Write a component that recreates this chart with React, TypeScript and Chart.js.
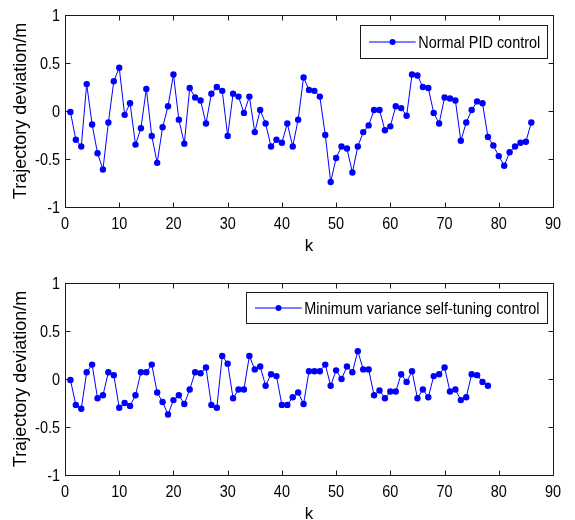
import React, { useEffect, useRef } from 'react';
import { Chart, registerables } from 'chart.js';

Chart.register(...registerables);

// ---- Data ----
const xTickValues = [0, 10, 20, 30, 40, 50, 60, 70, 80, 90];
const yTickValues = [-1, -0.5, 0, 0.5, 1];

const pidLabel = 'Normal PID control';
const pidDeviation = [
  -0.01, -0.30, -0.37, 0.28, -0.14, -0.44, -0.61, -0.12, 0.31, 0.45,
  -0.04, 0.08, -0.35, -0.18, 0.23, -0.26, -0.54, -0.17, 0.05, 0.38,
  -0.09, -0.34, 0.24, 0.14, 0.11, -0.13, 0.18, 0.25, 0.21, -0.26,
  0.18, 0.15, -0.02, 0.15, -0.22, 0.01, -0.13, -0.37, -0.30, -0.33,
  -0.13, -0.37, -0.09, 0.35, 0.22, 0.21, 0.15, -0.25, -0.74, -0.49,
  -0.37, -0.39, -0.64, -0.37, -0.22, -0.15, 0.01, 0.01, -0.20, -0.16,
  0.05, 0.03, -0.05, 0.38, 0.37, 0.25, 0.24, -0.02, -0.13, 0.14,
  0.13, 0.11, -0.31, -0.12, 0.01, 0.10, 0.08, -0.27, -0.36, -0.47,
  -0.57, -0.43, -0.37, -0.33, -0.32, -0.12,
];

const mvLabel = 'Minimum variance self-tuning control';
const mvDeviation = [
  -0.01, -0.27, -0.31, 0.07, 0.15, -0.20, -0.17, 0.07, 0.04, -0.30,
  -0.25, -0.28, -0.17, 0.07, 0.07, 0.15, -0.14, -0.24, -0.37, -0.22,
  -0.17, -0.26, -0.11, 0.07, 0.06, 0.12, -0.27, -0.30, 0.24, 0.16,
  -0.20, -0.11, -0.11, 0.24, 0.10, 0.13, -0.07, 0.05, 0.03, -0.27,
  -0.27, -0.19, -0.14, -0.26, 0.08, 0.08, 0.08, 0.15, -0.07, 0.09,
  0.00, 0.13, 0.07, 0.29, 0.10, 0.10, -0.17, -0.12, -0.20, -0.13,
  -0.13, 0.05, -0.03, 0.08, -0.20, -0.11, -0.19, 0.03, 0.05, 0.12,
  -0.13, -0.11, -0.22, -0.19, 0.05, 0.04, -0.03, -0.07,
];

const BLUE = '#0000ff';
const FONT = '"Liberation Sans", Arial, sans-serif';
const SX = 0.85; // horizontal squeeze of the reference's text

function makeFramePlugin(label: string, boxH: number, boxTop: number) {
  return {
    id: 'matlabFrame',
    afterDraw(chart: any) {
      const { ctx, chartArea: a, scales } = chart;
      ctx.save();
      // frame
      ctx.strokeStyle = '#1a1a1a';
      ctx.lineWidth = 1;
      const L = Math.round(a.left) + 0.5;
      const R = Math.round(a.right) + 0.5;
      const T = Math.round(a.top) + 0.5;
      const B = Math.round(a.bottom) + 0.5;
      ctx.strokeRect(L, T, R - L, B - T);
      // inner ticks
      const tl = 5;
      ctx.beginPath();
      xTickValues.forEach((v) => {
        const px = Math.round(scales.x.getPixelForValue(v)) + 0.5;
        ctx.moveTo(px, B);
        ctx.lineTo(px, B - tl);
        ctx.moveTo(px, T);
        ctx.lineTo(px, T + tl);
      });
      yTickValues.forEach((v) => {
        const py = Math.round(scales.y.getPixelForValue(v)) + 0.5;
        ctx.moveTo(L, py);
        ctx.lineTo(L + tl, py);
        ctx.moveTo(R, py);
        ctx.lineTo(R - tl, py);
      });
      ctx.stroke();

      // tick labels (squeezed horizontally like the reference)
      ctx.fillStyle = '#000000';
      ctx.font = `17px ${FONT}`;
      ctx.textBaseline = 'alphabetic';
      xTickValues.forEach((v) => {
        const px = scales.x.getPixelForValue(v);
        const w = ctx.measureText(String(v)).width;
        ctx.save();
        ctx.translate(px, a.bottom + 21.5);
        ctx.scale(SX, 1);
        ctx.fillText(String(v), -w / 2, 0);
        ctx.restore();
      });
      yTickValues.forEach((v) => {
        const py = scales.y.getPixelForValue(v);
        const w = ctx.measureText(String(v)).width;
        ctx.save();
        ctx.translate(a.left - 5, py + 6);
        ctx.scale(SX, 1);
        ctx.fillText(String(v), -w, 0);
        ctx.restore();
      });

      // legend box
      const lw = ctx.measureText(label).width * SX;
      const right = Math.round(a.right - 6) + 0.5;
      const top = Math.round(a.top + boxTop) + 0.5;
      const left = Math.round(right - (65.7 + lw)) + 0.5;
      ctx.fillStyle = '#ffffff';
      ctx.fillRect(left, top, right - left, boxH);
      ctx.strokeStyle = '#1a1a1a';
      ctx.strokeRect(left, top, right - left, boxH);
      const ly = top + boxH / 2;
      ctx.strokeStyle = BLUE;
      ctx.lineWidth = 1;
      ctx.beginPath();
      ctx.moveTo(left + 8.5, ly);
      ctx.lineTo(left + 55.2, ly);
      ctx.stroke();
      ctx.fillStyle = BLUE;
      ctx.beginPath();
      ctx.arc(left + 32, ly, 3, 0, Math.PI * 2);
      ctx.fill();
      ctx.translate(left + 57.7, ly + 6);
      ctx.scale(SX, 1);
      ctx.fillStyle = '#000000';
      ctx.textBaseline = 'alphabetic';
      ctx.textAlign = 'left';
      ctx.fillText(label, 0, 0);
      ctx.restore();
    },
  };
}

function Panel({ values, label, boxH, boxTop, top }: { values: number[]; label: string; boxH: number; boxTop: number; top: number }) {
  const ref = useRef<HTMLCanvasElement | null>(null);
  useEffect(() => {
    if (!ref.current) return;
    const data = values.map((v, i) => ({ x: i + 1, y: v }));
    const chart = new Chart(ref.current, {
      type: 'line',
      data: {
        datasets: [
          {
            label,
            data,
            borderColor: BLUE,
            backgroundColor: BLUE,
            borderWidth: 1,
            pointRadius: 3.2,
            pointBorderWidth: 0,
            pointBackgroundColor: BLUE,
            tension: 0,
            fill: false,
          },
        ],
      },
      options: {
        animation: false,
        responsive: false,
        devicePixelRatio: 1,
        layout: { padding: { left: 0, right: 22, top: 15, bottom: 0 } },
        plugins: { legend: { display: false }, tooltip: { enabled: false } },
        scales: {
          x: {
            type: 'linear',
            min: 0,
            max: 90,
            grid: { display: false, drawTicks: false },
            border: { display: false },
            afterBuildTicks: (scale: any) => {
              scale.ticks = xTickValues.map((v) => ({ value: v }));
            },
            ticks: { display: false },
            title: {
              display: true,
              text: 'k',
              color: '#000',
              font: { family: FONT, size: 17 },
              padding: { top: 0, bottom: 3 },
            },
            afterFit: (scale: any) => {
              scale.height = 53;
            },
          },
          y: {
            min: -1,
            max: 1,
            grid: { display: false, drawTicks: false },
            border: { display: false },
            afterBuildTicks: (scale: any) => {
              scale.ticks = yTickValues.map((v) => ({ value: v }));
            },
            ticks: { display: false },
            title: {
              display: true,
              text: 'Trajectory deviation/m',
              color: '#000',
              font: { family: FONT, size: 18 },
              padding: { top: 10, bottom: 0 },
            },
            afterFit: (scale: any) => {
              scale.width = 65;
            },
          },
        },
      },
      plugins: [makeFramePlugin(label, boxH, boxTop)],
    } as any);
    return () => chart.destroy();
  }, [values, label, boxH, boxTop]);
  return (
    <canvas
      ref={ref}
      width={575}
      height={260}
      style={{ position: 'absolute', left: 0, top, width: 575, height: 260 }}
    />
  );
}

export default function App() {
  return (
    <div
      style={{
        position: 'fixed',
        left: 0,
        top: 0,
        width: 575,
        height: 520,
        overflow: 'hidden',
        background: '#ffffff',
      }}
    >
      <Panel values={pidDeviation} label={pidLabel} boxH={33} boxTop={10} top={0} />
      <Panel values={mvDeviation} label={mvLabel} boxH={31} boxTop={9} top={268} />
    </div>
  );
}
